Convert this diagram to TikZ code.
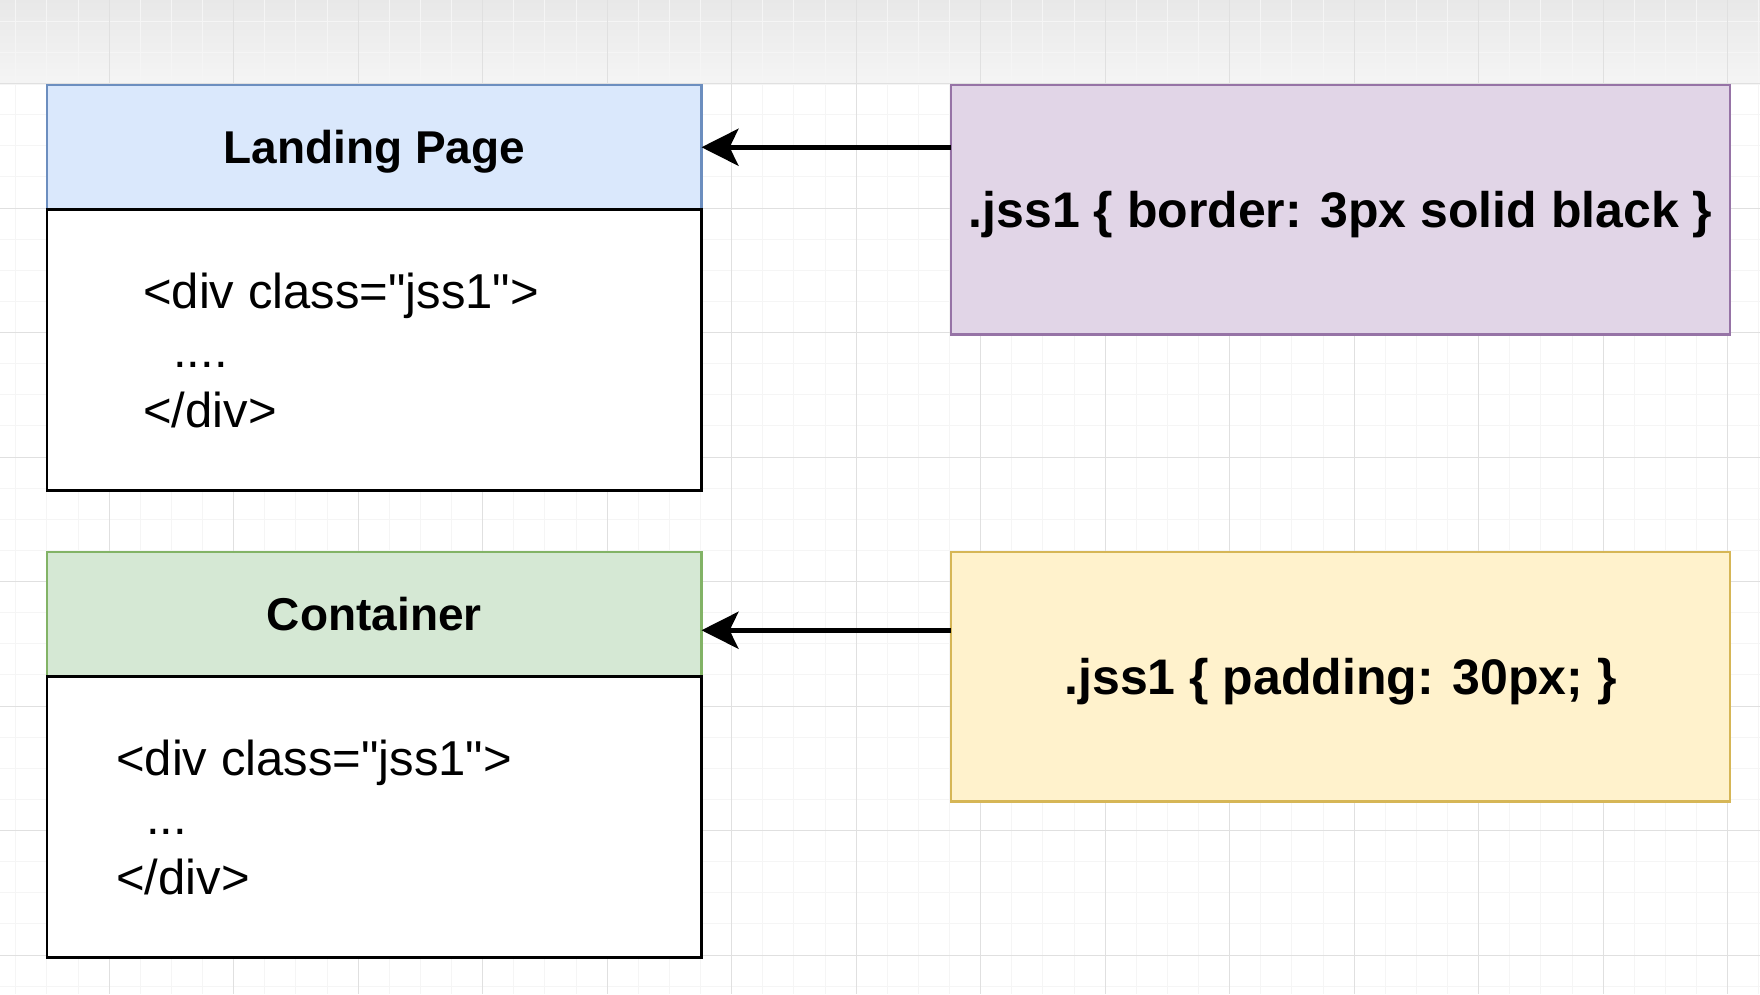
\documentclass[tikz,border=0pt]{standalone}
\usepackage{fontspec}
\setmainfont{Liberation Sans}
\usepackage{xcolor}
\usepackage{tikz}
\usetikzlibrary{arrows.meta,positioning}
\definecolor{blueF}{HTML}{DAE8FC}
\definecolor{blueD}{HTML}{6C8EBF}
\definecolor{greenF}{HTML}{D5E8D4}
\definecolor{greenD}{HTML}{82B366}
\definecolor{purpleF}{HTML}{E1D5E7}
\definecolor{purpleD}{HTML}{9673A6}
\definecolor{yellowF}{HTML}{FFF2CC}
\definecolor{yellowD}{HTML}{D6B656}

\begin{document}
\begin{tikzpicture}[x=1pt,y=-1pt,
	minorline/.style={black!4,line width=1pt},
	majorline/.style={black!12,line width=1pt},
	head/.style={draw,line width=2.5pt,outer sep=0pt,inner sep=0pt,anchor=north west,minimum width=654.5pt,minimum height=124.5pt,text depth=0pt,font=\fontsize{46}{55}\selectfont\bfseries},
	body/.style={draw=black,fill=white,line width=2.5pt,outer sep=0pt,inner sep=0pt,minimum width=654.5pt,minimum height=281pt},
	css/.style={draw,line width=2.5pt,outer sep=0pt,inner sep=0pt,anchor=north west,minimum width=779pt,minimum height=249.5pt,text depth=0pt,font=\fontsize{50}{60}\selectfont\bfseries},
	code/.style={align=left,inner sep=0pt,anchor=west,font=\fontsize{49}{59.5}\selectfont},
	arr/.style={line width=5pt,-{Stealth[length=37pt,width=37pt,inset=9pt]}}]
			\useasboundingbox (0,0) rectangle (1760,994);
			\fill[white] (0,0) rectangle (1760,994);
			\shade[top color=black!9,bottom color=black!4] (0,0) rectangle (1760,84);
			\foreach \gx in {0,...,56} \draw[minorline] ({15.8+31.125*\gx},0) -- ++(0,994);
			\foreach \gy in {0,...,31} \draw[minorline] (0,{21.25+31.125*\gy}) -- ++(1760,0);
			\foreach \gx in {0,...,13} \draw[majorline] ({109.2+124.5*\gx},0) -- ++(0,994);
			\foreach \gy in {0,...,7} \draw[majorline] (0,{83.5+124.5*\gy}) -- ++(1760,0);

			\node[head,fill=blueF,draw=blueD] (landhead) at (47,85) {Landing Page};
			\node[body,below=0pt of landhead] (landbody) {};
			\node[code,xshift=96pt] (landcode) at (landbody.west) {<div class=\textquotedbl jss1\textquotedbl>\\\hspace*{30pt}....\\</div>};

			\node[head,fill=greenF,draw=greenD] (conthead) at (47,552) {Container};
			\node[body,below=0pt of conthead] (contbody) {};
			\node[code,xshift=69pt] (contcode) at (contbody.west) {<div class=\textquotedbl jss1\textquotedbl>\\\hspace*{30pt}...\\</div>};

			\node[css,fill=purpleF,draw=purpleD] (cssone) at (951,85) {.jss1 \{ border: 3px solid black \}};
			\node[css,fill=yellowF,draw=yellowD] (csstwo) at (951,552) {.jss1 \{ padding: 30px; \}};

			\coordinate (tipone) at (landhead.east);
			\coordinate (tiptwo) at ([yshift=-16pt]conthead.east);
			\draw[arr] (tipone -| cssone.west) -- (tipone);
			\draw[arr] (tiptwo -| csstwo.west) -- (tiptwo);
		\end{tikzpicture}
\end{document}
